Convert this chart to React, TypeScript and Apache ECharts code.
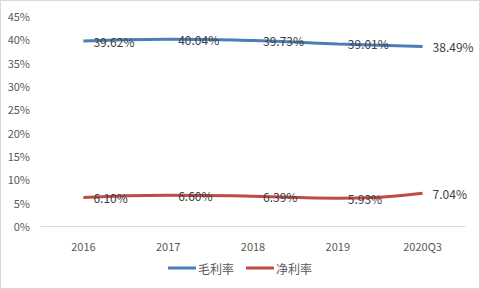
import React, { useEffect, useRef } from "react";
import * as echarts from "echarts";

const categories = ["2016", "2017", "2018", "2019", "2020Q3"];
const grossMargin = [39.62, 40.04, 39.73, 39.01, 38.49];
const netMargin = [6.1, 6.6, 6.39, 5.93, 7.04];
const seriesNames = ["毛利率", "净利率"];

export default function App() {
  const ref = useRef<HTMLDivElement>(null);
  useEffect(() => {
    document.body.style.margin = "0";
    const chart = echarts.init(ref.current!, null, { renderer: "svg" });
    const font = "'Noto Sans CJK SC', 'Noto Sans', sans-serif";
    const label = {
      show: true,
      position: "right" as const,
      distance: 10,
      color: "#404040",
      fontSize: 12,
      fontFamily: font,
      formatter: (p: any) => p.value.toFixed(2) + "%",
    };
    chart.setOption({
      animation: false,
      backgroundColor: "#fff",
      grid: { left: 40, right: 14, top: 15, bottom: 62 },
      legend: {
        bottom: 9,
        left: "center",
        itemWidth: 28,
        itemHeight: 3,
        itemGap: 12,
        icon: "rect",
        textStyle: { color: "#595959", fontSize: 12, fontFamily: font, padding: [0, 0, 0, -3] },
        data: seriesNames,
      },
      xAxis: {
        type: "category",
        data: categories,
        axisLine: { lineStyle: { color: "#d9d9d9" } },
        axisTick: { show: false },
        axisLabel: { color: "#595959", fontSize: 11, fontFamily: font, margin: 14 },
      },
      yAxis: {
        type: "value",
        min: 0,
        max: 45,
        interval: 5,
        splitLine: { show: false },
        axisLine: { show: false },
        axisTick: { show: false },
        axisLabel: {
          color: "#595959",
          fontSize: 11,
          fontFamily: font,
          margin: 11,
          formatter: "{value}%",
        },
      },
      series: [
        {
          name: seriesNames[0],
          type: "line",
          smooth: true,
          data: grossMargin,
          symbol: "circle",
          symbolSize: 0,
          showSymbol: true,
          lineStyle: { color: "#4a7ebb", width: 3 },
          itemStyle: { color: "#4a7ebb" },
          label,
        },
        {
          name: seriesNames[1],
          type: "line",
          smooth: true,
          data: netMargin,
          symbol: "circle",
          symbolSize: 0,
          showSymbol: true,
          lineStyle: { color: "#be4b48", width: 3 },
          itemStyle: { color: "#be4b48" },
          label,
        },
      ],
    });
    return () => chart.dispose();
  }, []);
  return (
    <div
      ref={ref}
      style={{
        width: 480,
        height: 289,
        boxSizing: "border-box",
        border: "1px solid #d9d9d9",
      }}
    />
  );
}
